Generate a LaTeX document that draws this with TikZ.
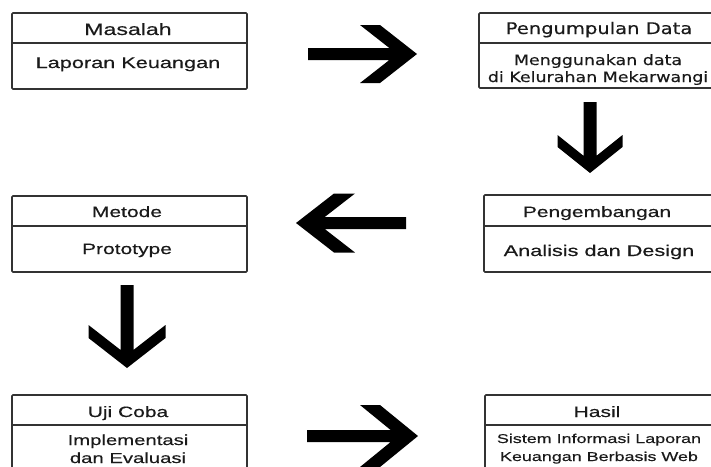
\documentclass[tikz,border=0pt]{standalone}
\usepackage{fontspec}
\setmainfont{Liberation Sans}
\newfontfamily\arialw[FakeStretch=1.4, FakeBold=0.35]{Liberation Sans}
\newfontfamily\dejaw[FakeStretch=1.22, FakeBold=0.3]{DejaVu Sans}
\definecolor{boxline}{HTML}{333333}
\definecolor{txt}{HTML}{1A1A1A}
\tikzset{
  boxshape/.style={draw=boxline, line width=1.7pt, rounded corners=1pt},
  divline/.style={draw=boxline, line width=1.7pt},
  lbl/.style={anchor=base, inner sep=0pt, text=txt, font=\arialw\fontsize{15}{17}\selectfont},
  dlbl/.style={anchor=base, inner sep=0pt, text=txt, font=\dejaw\fontsize{14.3}{17}\selectfont},
  arrowfill/.style={fill=black}
}
% #1 tip x, #2 tip y, #3 angle, #4 length, #5 shaft half, #6 head half, #7 head length, #8 chevron thickness
\newcommand{\blockarr}[8]{%
  \pgfmathsetmacro\barrxi{-(#7)+((#7)-(#8))*((#6)-(#5))/(#6)}%
  \fill[arrowfill, shift={(#1,#2)}, rotate=#3]
    (-#4,-#5) -- (\barrxi,-#5) -- (-#7,-#6) -- ({-(#7)+(#8)},-#6) -- (0,0)
    -- ({-(#7)+(#8)},#6) -- (-#7,#6) -- (\barrxi,#5) -- (-#4,#5) -- cycle;}
\begin{document}
\begin{tikzpicture}[x=1pt, y=-1pt]
\useasboundingbox (0,0) rectangle (711,466);
\clip (0,0) rectangle (711,466);
% boxes
\draw[boxshape] (12,13) rectangle (247,89);
\draw[divline] (12,43) -- (247,43);
\draw[boxshape] (479,13) rectangle (720,88);
\draw[divline] (479,43) -- (720,43);
\draw[boxshape] (12,196) rectangle (247,272);
\draw[divline] (12,226) -- (247,226);
\draw[boxshape] (484,195) rectangle (720,272);
\draw[divline] (484,226) -- (720,226);
\draw[boxshape] (12,395) rectangle (247,480);
\draw[divline] (12,425) -- (247,425);
\draw[boxshape] (485,395) rectangle (720,480);
\draw[divline] (485,425) -- (720,425);
% texts
\node[lbl, font=\arialw\fontsize{16.5}{18}\selectfont] (t1) at (128,35) {Masalah};
\node[lbl, font=\arialw\fontsize{15.5}{18}\selectfont] (t2) at (128,68) {Laporan Keuangan};
\node[dlbl, font=\dejaw\fontsize{16}{18}\selectfont] (t3) at (599,34) {Pengumpulan Data};
\node[dlbl] (t4) at (598,65) {Menggunakan data};
\node[dlbl] (t5) at (598,82) {di Kelurahan Mekarwangi};
\node[lbl] (t6) at (127,217) {Metode};
\node[lbl] (t7) at (127,254) {Prototype};
\node[lbl] (t8) at (597,217) {Pengembangan};
\node[lbl, font=\arialw\fontsize{15.5}{18}\selectfont] (t9) at (599,256) {Analisis dan Design};
\node[lbl] (t10) at (128,417) {Uji Coba};
\node[lbl, font=\arialw\fontsize{14.5}{17}\selectfont] (t11) at (128,445) {Implementasi};
\node[lbl, font=\arialw\fontsize{14.5}{17}\selectfont] (t12) at (128,463) {dan Evaluasi};
\node[lbl] (t13) at (597,417) {Hasil};
\node[lbl, font=\arialw\fontsize{12.8}{15}\selectfont] (t14) at (599,443) {Sistem Informasi Laporan};
\node[lbl, font=\arialw\fontsize{12.8}{15}\selectfont] (t15) at (599,461) {Keuangan Berbasis Web};
% arrows
\blockarr{417}{54}{0}{109}{6}{29}{57}{20}
\blockarr{590}{173}{-90}{71}{6.5}{32.5}{38}{12}
\blockarr{296}{223}{180}{110}{6}{29.5}{59}{21}
\blockarr{127}{368}{-90}{83}{6.5}{38.5}{43}{13}
\blockarr{418}{436}{0}{111}{6}{31}{58}{20}
\end{tikzpicture}
\end{document}
